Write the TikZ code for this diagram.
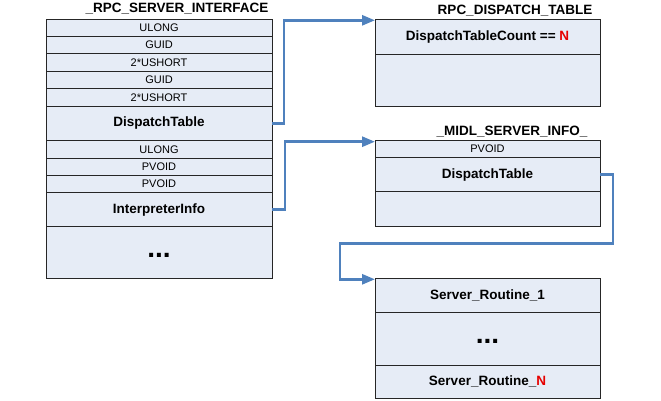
\documentclass[tikz,border=0pt]{standalone}
\usepackage{fontspec}
\setmainfont{Liberation Sans}
\usepackage{tikz}
\usetikzlibrary{arrows.meta}
\usetikzlibrary{positioning}

\definecolor{fieldfill}{RGB}{230,236,246}
\definecolor{linkblue}{RGB}{79,129,189}
\definecolor{countred}{RGB}{230,0,0}

\begin{document}
\begin{tikzpicture}[x=1pt, y=-1pt,
    field/.style={draw=black!85, line width=0.9pt, fill=fieldfill,
      inner sep=0pt, outer sep=0pt, minimum width=226pt,
      font=\fontsize{11}{12}\selectfont},
    bfield/.style={field, font=\fontsize{13.5}{15}\selectfont\bfseries},
    dots/.style={field, font=\fontsize{28}{30}\selectfont\bfseries,
      text height=10pt, text depth=0pt},
    title/.style={font=\fontsize{13.5}{15}\selectfont\bfseries, inner sep=0pt},
    link/.style={draw=linkblue, line width=2.7pt,
      -{Triangle[length=13pt,width=10pt]}}]

    \useasboundingbox (0,0) rectangle (661,400);

    % _RPC_SERVER_INTERFACE
    \node [title] (rsit) at (177,9) {\_RPC\_SERVER\_INTERFACE};
    \node [field, minimum height=17.4pt, anchor=north west] (rsi1) at (46,19) {ULONG};
    \node [field, minimum height=17.4pt, below=0pt of rsi1] (rsi2) {GUID};
    \node [field, minimum height=17.4pt, below=0pt of rsi2] (rsi3) {2*USHORT};
    \node [field, minimum height=17.4pt, below=0pt of rsi3] (rsi4) {GUID};
    \node [field, minimum height=17.4pt, below=0pt of rsi4] (rsi5) {2*USHORT};
    \node [bfield, minimum height=34.7pt, below=0pt of rsi5] (rsi6) {DispatchTable};
    \node [field, minimum height=17.3pt, below=0pt of rsi6] (rsi7) {ULONG};
    \node [field, minimum height=17.3pt, below=0pt of rsi7] (rsi8) {PVOID};
    \node [field, minimum height=17.3pt, below=0pt of rsi8] (rsi9) {PVOID};
    \node [bfield, minimum height=34.1pt, below=0pt of rsi9] (rsi10) {InterpreterInfo};
    \node [dots, minimum height=51.3pt, below=0pt of rsi10] (rsi11) {...};

    % RPC_DISPATCH_TABLE
    \node [title] (rdtt) at (515,11) {RPC\_DISPATCH\_TABLE};
    \node [bfield, minimum width=225pt, minimum height=35pt, anchor=north west]
      (rdt1) at (375,19.3) {DispatchTableCount == \textcolor{countred}{N}};
    \node [field, minimum width=225pt, minimum height=52pt, below=0pt of rdt1] (rdt2) {};

    % _MIDL_SERVER_INFO_
    \node [title] (msit) at (512,132) {\_MIDL\_SERVER\_INFO\_};
    \node [field, minimum width=225pt, minimum height=17pt, anchor=north west]
      (msi1) at (375,140.7) {PVOID};
    \node [bfield, minimum width=225pt, minimum height=34pt, below=0pt of msi1] (msi2) {DispatchTable};
    \node [field, minimum width=225pt, minimum height=35pt, below=0pt of msi2] (msi3) {};

    % server routines
    \node [bfield, minimum width=225pt, minimum height=34.4pt, anchor=north west]
      (sr1) at (375,278.3) {Server\_Routine\_1};
    \node [dots, minimum width=225pt, minimum height=52.3pt, below=0pt of sr1] (sr2) {...};
    \node [bfield, minimum width=225pt, minimum height=33.3pt, below=0pt of sr2]
      (sr3) {Server\_Routine\_\textcolor{countred}{N}};

    % pointers
    \coordinate (loopback) at (340,243.3);
    \draw [link] (rsi6.east) -- ++(12,0) |- ([yshift=-1pt]rdt1.north west);
    \draw [link] (rsi10.east) -- ++(13,0) |- ([yshift=-1pt]msi1.north west);
    \draw [link] (msi2.east) -- ++(13,0) |- (loopback) |- ([yshift=-1pt]sr1.north west);

\end{tikzpicture}
\end{document}
